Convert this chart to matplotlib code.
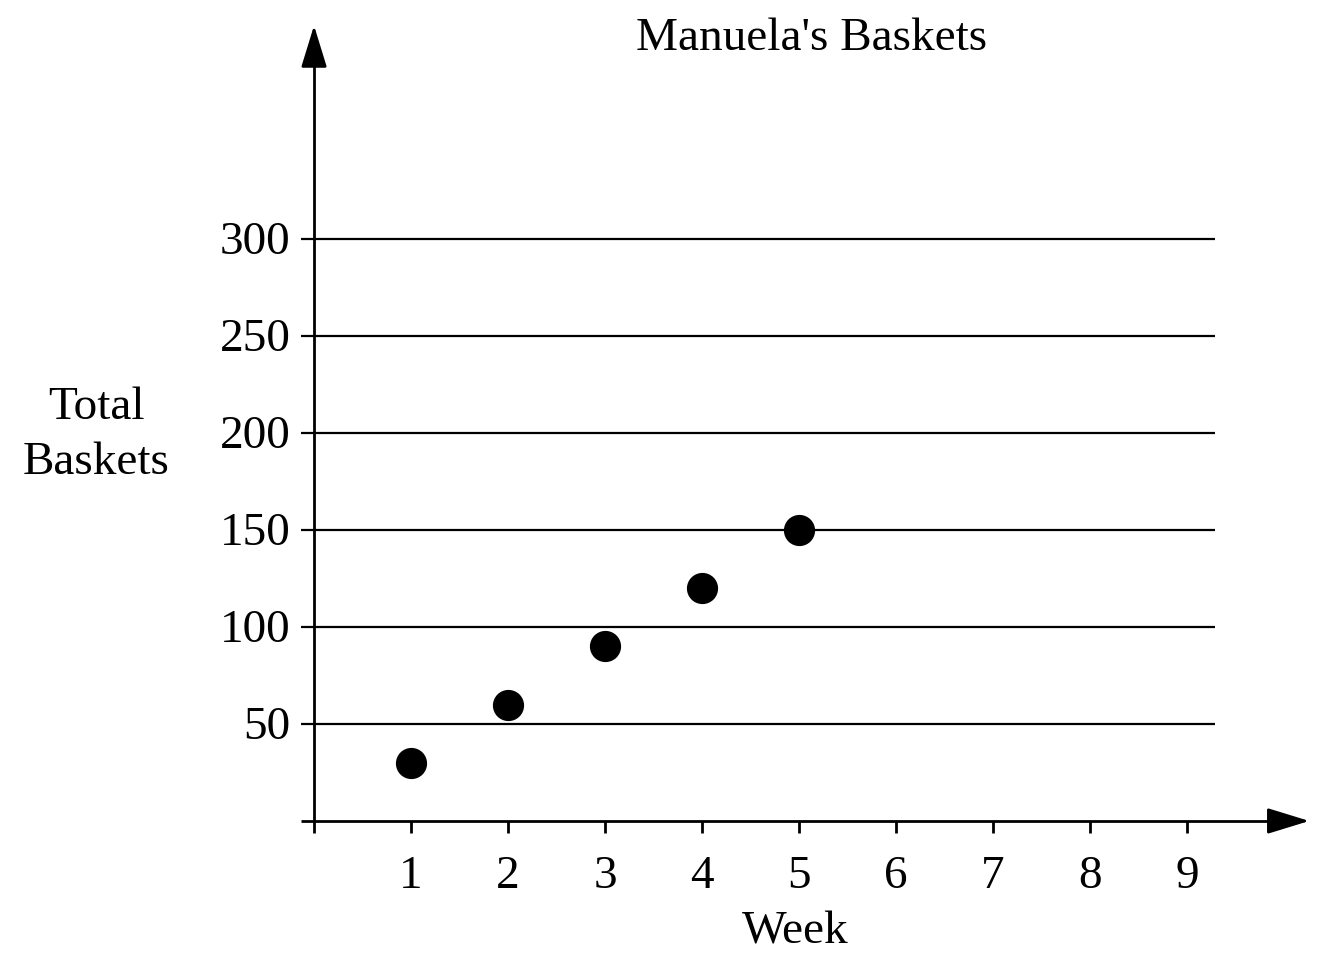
import matplotlib
matplotlib.use("Agg")
import matplotlib.pyplot as plt

weeks = [1, 2, 3, 4, 5]
baskets = [30, 60, 90, 120, 150]
x_ticks = [1, 2, 3, 4, 5, 6, 7, 8, 9]
y_ticks = [50, 100, 150, 200, 250, 300]

plt.rcParams["font.family"] = ["Liberation Serif", "DejaVu Serif"]

fig = plt.figure(figsize=(13.26, 9.6), dpi=100)
ax = fig.add_axes([0.2222, 0.1044, 0.7681, 0.869])
ax.set_xlim(-0.2, 10.3)
ax.set_ylim(-20, 410)
ax.axis("off")

lw = 2.0
head = dict(arrowstyle="-|>,head_length=2.6,head_width=0.8", color="black",
            lw=lw, mutation_scale=10, shrinkA=0, shrinkB=0)

# horizontal grid lines, with a short tick left of the y axis
for v in y_ticks:
    ax.plot([-0.134, 9.29], [v, v], color="black", lw=1.6, solid_capstyle="butt")
    ax.text(-0.245, v - 1.8, str(v), ha="right", va="center", fontsize=34)

# x axis with arrow
ax.plot([-0.134, 9.9], [0, 0], color="black", lw=lw, solid_capstyle="butt")
ax.annotate("", xy=(10.26, 0), xytext=(9.85, 0), arrowprops=head,
            annotation_clip=False)
# y axis with arrow
ax.plot([0, 0], [0, 395], color="black", lw=lw, solid_capstyle="butt")
ax.annotate("", xy=(0, 410), xytext=(0, 390), arrowprops=head,
            annotation_clip=False)

# x ticks below the axis
for t in [0] + x_ticks:
    ax.plot([t, t], [0, -6.2], color="black", lw=lw, solid_capstyle="butt")
for t in x_ticks:
    ax.text(t, -29, str(t), ha="center", va="center", fontsize=34)

ax.scatter(weeks, baskets, s=460, color="black", zorder=3)

fig.text(812 / 1326, 1 - 39 / 960, "Manuela's Baskets", ha="center", va="center", fontsize=34)
fig.text(96 / 1326, 1 - 435 / 960, "Total\nBaskets", ha="center", va="center",
         fontsize=34, linespacing=1.38)
fig.text(795 / 1326, 1 - 932 / 960, "Week", ha="center", va="center", fontsize=34)

fig.savefig("out.png", dpi=100)
